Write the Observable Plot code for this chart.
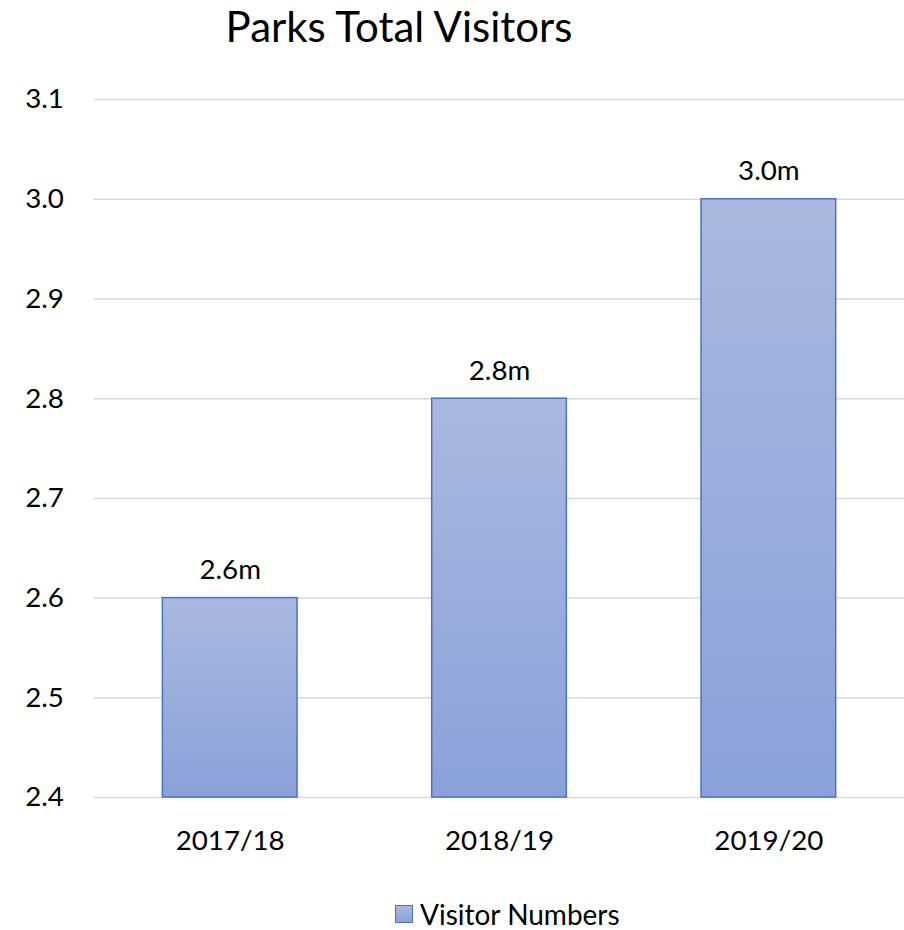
<!DOCTYPE html>
<html>
<head>
<meta charset="utf-8">
<script src="https://cdn.jsdelivr.net/npm/d3@7"></script>
<script src="https://cdn.jsdelivr.net/npm/@observablehq/plot@0.6"></script>
<style>
  html, body { margin: 0; padding: 0; background: #fff; }
  #wrap { position: relative; width: 904px; height: 930px; overflow: hidden; font-family: Lato, "Open Sans", sans-serif; color: #000; }
  #title { position: absolute; left: 0; top: 5px; width: 798px; text-align: center; font-size: 42px; line-height: 42px; }
  #chart { position: absolute; left: 0; top: 0; }
  #legend { position: absolute; left: 395px; top: 897px; font-size: 28px; line-height: 34px; display: flex; align-items: center; white-space: nowrap; }
  #legend .sw { width: 16px; height: 16px; border: 1.5px solid #4472c4; background: linear-gradient(#aab8e0, #8aa1d9); margin-right: 7px; }
</style>
</head>
<body>
<div id="wrap">
  <div id="title">Parks Total Visitors</div>
  <div id="chart"></div>
  <div id="legend"><span class="sw"></span><span>Visitor Numbers</span></div>
</div>
<script>
const categories = ["2017/18", "2018/19", "2019/20"];
const visitors = [2.6, 2.8, 3.0];
const yTicks = [2.4, 2.5, 2.6, 2.7, 2.8, 2.9, 3.0, 3.1];
const seriesName = "Visitor Numbers";

const yMin = yTicks[0], yMax = yTicks[yTicks.length - 1];
const data = categories.map((c, i) => ({ category: c, value: visitors[i] }));

const plot = Plot.plot({
  width: 913,
  height: 880,
  marginLeft: 95,
  marginRight: 0,
  marginTop: 100,
  marginBottom: 75,
  style: { fontFamily: "Lato, 'Open Sans', sans-serif", fontSize: "28px", color: "#000", background: "transparent", overflow: "visible" },
  x: { domain: categories, paddingInner: 0.5, paddingOuter: 0.25, label: null },
  y: { domain: [yMin, yMax], label: null },
  marks: [
    Plot.ruleY(yTicks, { stroke: "#d9d9d9", strokeWidth: 1.5 }),
    Plot.barY(data, { x: "category", y1: () => yMin, y2: "value", fill: "url(#barGrad)", stroke: "#4472c4", strokeWidth: 1.5 }),
    Plot.text(data, { x: "category", y: "value", text: d => d.value.toFixed(1) + "m", lineAnchor: "bottom", dy: -19, fontSize: 28, fill: "#000" }),
    Plot.axisY({ ticks: yTicks, tickFormat: d => d.toFixed(1), tickSize: 0, tickPadding: 31, fontSize: 28, fill: "#000" }),
    Plot.axisX({ tickSize: 0, tickPadding: 33, fontSize: 28, fill: "#000" })
  ]
});

const svg = d3.select(plot);
const defs = svg.insert("defs", ":first-child");
const g = defs.append("linearGradient").attr("id", "barGrad").attr("x1", 0).attr("y1", 0).attr("x2", 0).attr("y2", 1);
g.append("stop").attr("offset", "0%").attr("stop-color", "#aab8e0");
g.append("stop").attr("offset", "100%").attr("stop-color", "#8aa1d9");

document.getElementById("chart").appendChild(plot);
</script>
</body>
</html>
